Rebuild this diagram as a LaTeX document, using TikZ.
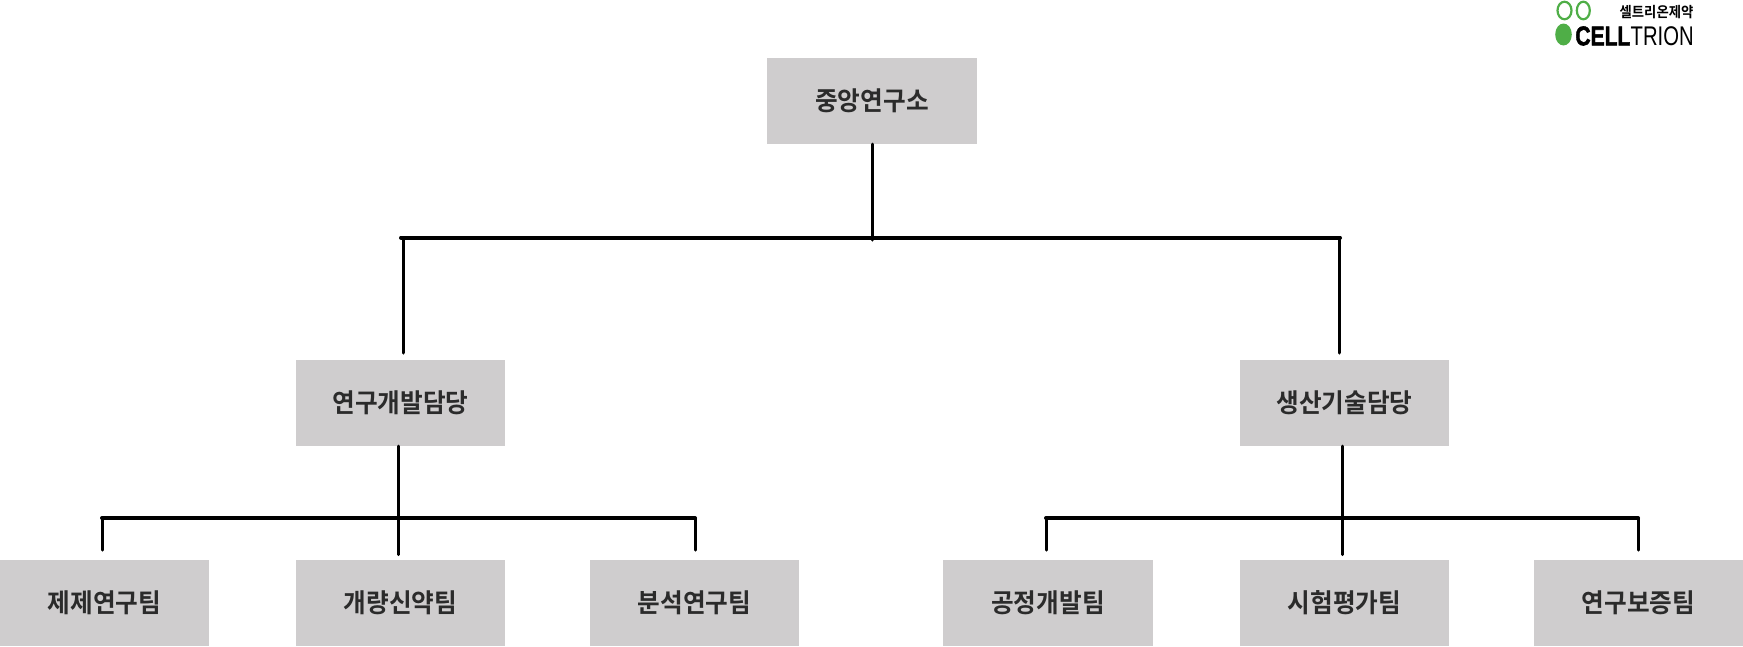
\documentclass[tikz,border=0pt]{standalone}
\usepackage{fontspec}
\usepackage[HTML]{xcolor}
\usetikzlibrary{positioning, calc}
\setmainfont{Noto Sans CJK KR}[BoldFont={Noto Sans CJK KR Bold}]
\newfontfamily\krmedium{Noto Sans CJK KR Bold}
\newfontfamily\logosans{Liberation Sans}
\newfontfamily\logoheavy[FakeBold=2]{Liberation Sans Bold}
\definecolor{boxgray}{HTML}{CFCDCE}
\definecolor{labelink}{HTML}{2B2B2B}
\definecolor{logogreen}{HTML}{4FAE47}
\tikzset{
  orgbox/.style={fill=boxgray, minimum width=221pt, minimum height=86pt, inner sep=0pt,
    text=labelink, font=\krmedium\fontsize{26}{30}\selectfont, xscale=0.948},
  bar/.style={line width=3pt, black, line cap=round},
  busbar/.style={line width=4pt, black, line cap=round},
  ring/.style={draw=logogreen, line width=2.2pt}
}

\begin{document}
\begin{tikzpicture}[x=1pt,y=-1pt]
\useasboundingbox (0,0) rectangle (1743,646);

% boxes
\node[orgbox] (center) at (872,101) {중앙연구소};
\node[orgbox] (rnd) at (400.5,403) {연구개발담당};
\node[orgbox] (prod) at (1344.5,403) {생산기술담당};
\node[orgbox] (form) at (104.5,603) {제제연구팀};
\node[orgbox] (drug) at (400.5,603) {개량신약팀};
\node[orgbox] (anal) at (694.5,603) {분석연구팀};
\node[orgbox] (proc) at (1048,603) {공정개발팀};
\node[orgbox] (test) at (1344.5,603) {시험평가팀};
\node[orgbox] (qual) at (1638.5,603) {연구보증팀};

% top level
\coordinate (topdrop) at (872,240);
\coordinate (topl) at (401,237.5);
\coordinate (topr) at (1340,237.5);
\coordinate (rndin) at (403.5,353);
\coordinate (prodin) at (1339.5,353);
\draw[bar] (center.south) -- (topdrop);
\draw[busbar] (topl) -- (topr);
\draw[bar] (rndin |- topl) -- (rndin);
\draw[bar] (prodin |- topr) -- (prodin);

% left group
\coordinate (rndstem) at (398.5,554.5);
\coordinate (rndl) at (102,518);
\coordinate (rndr) at (695,518);
\coordinate (formin) at (102,550);
\coordinate (analin) at (695,550);
\draw[bar] (rnd.south -| rndstem) -- (rndstem);
\draw[busbar] (rndl) -- (rndr);
\draw[bar] (rndl) -- (formin);
\draw[bar] (rndr) -- (analin);

% right group
\coordinate (prodstem) at (1342.3,554.5);
\coordinate (prodl) at (1046,518);
\coordinate (prodr) at (1638,518);
\coordinate (procin) at (1046,550);
\coordinate (qualin) at (1638,550);
\draw[bar] (prod.south -| prodstem) -- (prodstem);
\draw[busbar] (prodl) -- (prodr);
\draw[bar] (prodl) -- (procin);
\draw[bar] (prodr) -- (qualin);

% logo
\draw[ring] (1564.5,10.5) ellipse (7pt and 8.8pt);
\draw[ring] (1583.3,10.5) ellipse (6.5pt and 8.8pt);
\fill[logogreen] (1563.5,34.5) ellipse (8.3pt and 11pt);
\node[inner sep=0pt, font=\krmedium\fontsize{14.5}{16}\selectfont, xscale=0.92] (logokr) at (1656.5,12.5) {셀트리온제약};
\node[inner sep=0pt, anchor=east, font=\logoheavy\fontsize{27}{29}\selectfont, xscale=0.78] (logocell) at (1630.5,36) {CELL};
\node[inner sep=0pt, anchor=west, font=\logosans\fontsize{27}{29}\selectfont, xscale=0.75] (logotrion) at (1630.5,36) {TRION};
\end{tikzpicture}
\end{document}
